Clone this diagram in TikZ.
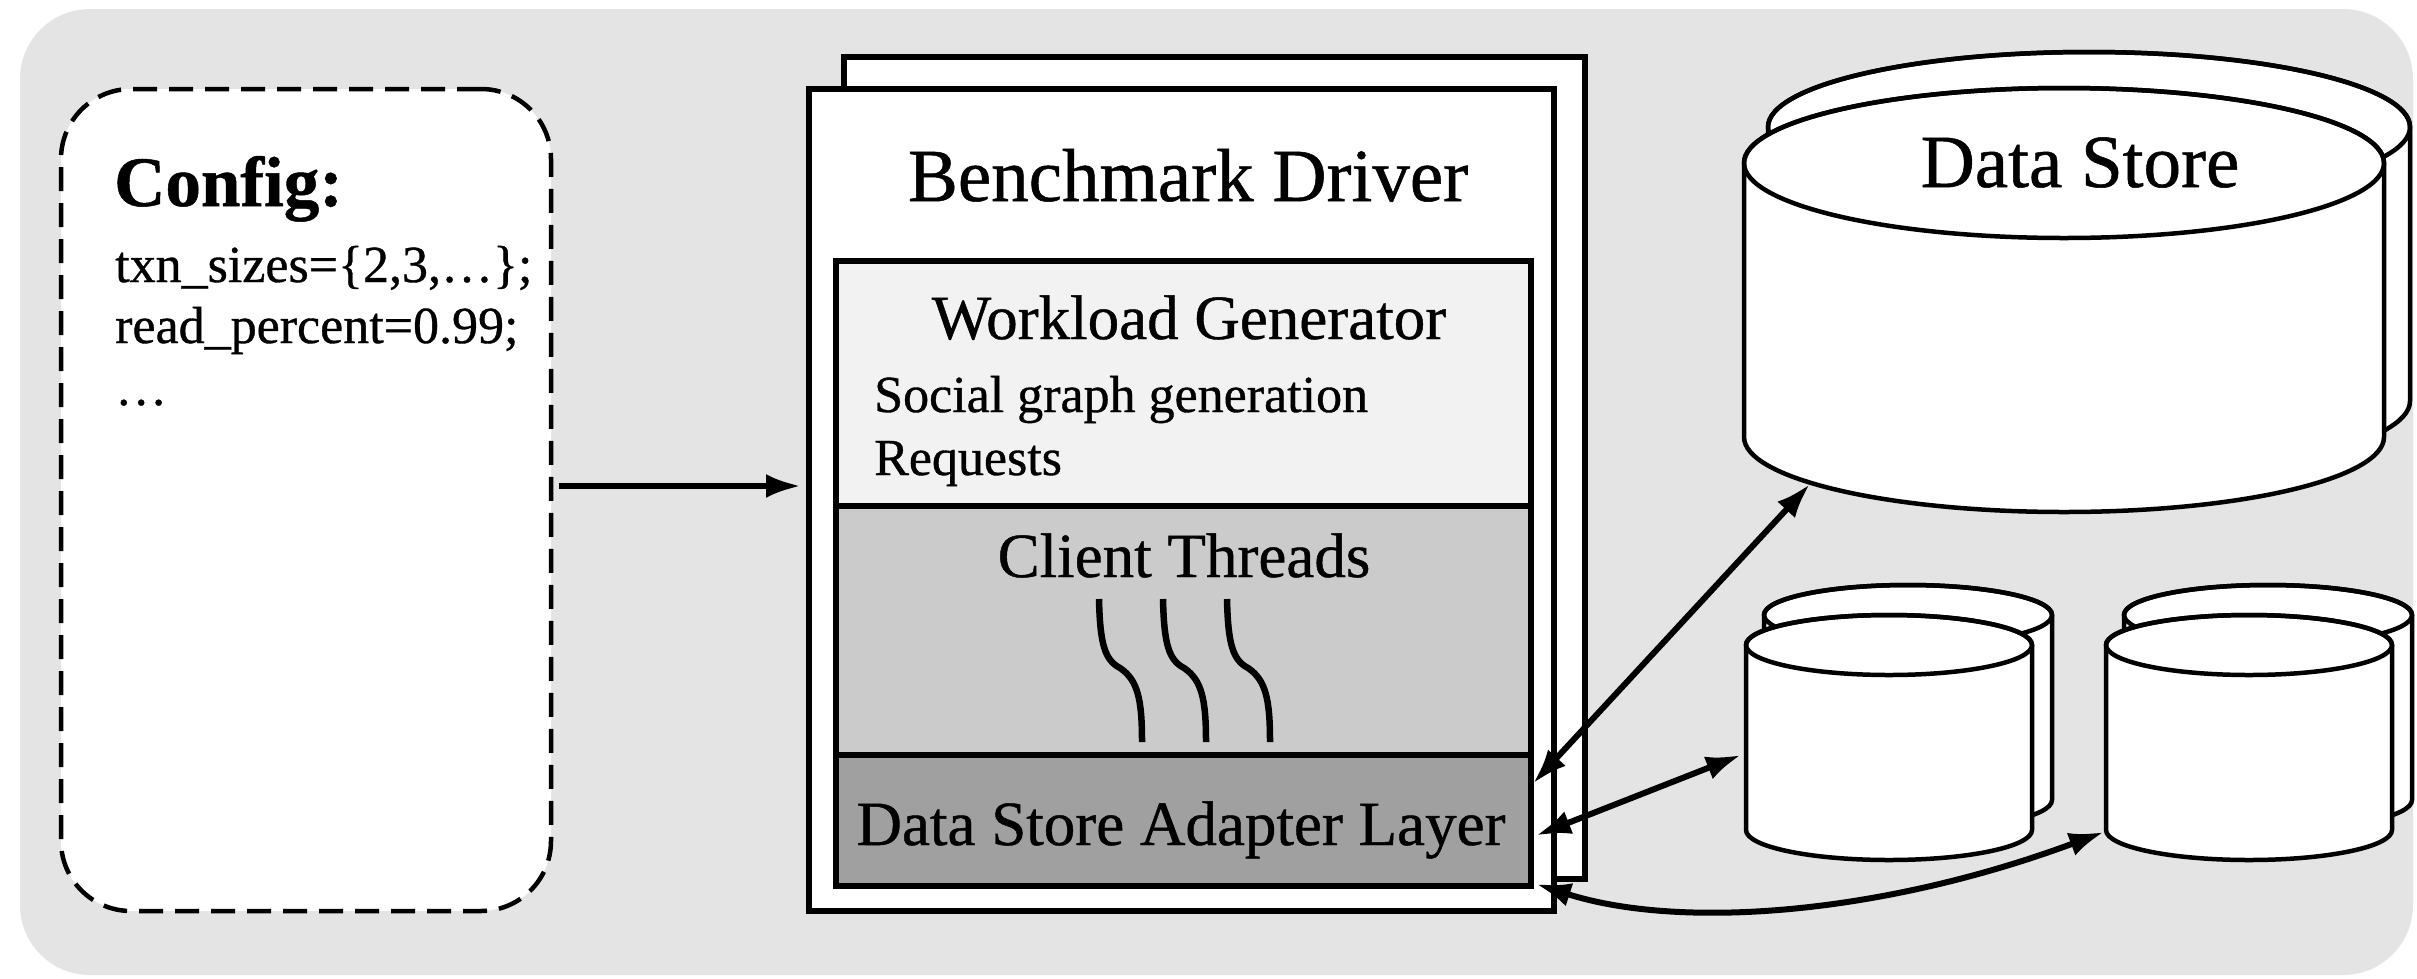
\documentclass[tikz,border=0pt]{standalone}
\usepackage{fontspec}
\setmainfont{Liberation Serif}[FakeBold=0.7]
\usetikzlibrary{arrows.meta}
\definecolor{bggray}{HTML}{E4E4E4}
\definecolor{wlgray}{HTML}{F2F2F2}
\definecolor{ctgray}{HTML}{CBCBCB}
\definecolor{adgray}{HTML}{A0A0A0}
\newcommand\mycyl[5]{%
  \path[cylbody] ({#1-#2},#3) -- ({#1-#2},#4) arc[start angle=180,end angle=360,x radius=#2pt,y radius=#5pt] -- ({#1+#2},#3) arc[start angle=0,end angle=180,x radius=#2pt,y radius=#5pt] -- cycle;
  \draw[cylline] (#1,#3) ellipse[x radius=#2pt,y radius=#5pt];
}
\begin{document}
\begin{tikzpicture}[x=1pt,y=-1pt,
  cfgbox/.style={draw, line width=4.5pt, dash pattern=on 24pt off 12pt, fill=white, rounded corners=70pt, inner sep=0pt, outer sep=0pt},
  boxw/.style={draw, line width=5.5pt, fill=white, inner sep=0pt, outer sep=0pt},
  layer/.style={draw, line width=5.5pt, inner sep=0pt, outer sep=0pt, minimum width=695pt, anchor=north west},
  cylbody/.style={draw, fill=white, line width=4.5pt, line join=round},
  cylline/.style={line width=4.5pt},
  conn/.style={line width=6pt, -{Latex[length=35pt,width=24pt]}},
  biconn/.style={line width=6pt, {Latex[length=35pt,width=24pt]}-{Latex[length=35pt,width=24pt]}},
  thread/.style={line width=6.5pt},
  txtA/.style={font=\fontsize{52}{62}\selectfont, inner sep=0pt},
  txtB/.style={font=\fontsize{63}{75}\selectfont, inner sep=0pt},
  txtC/.style={font=\fontsize{75}{90}\selectfont, inner sep=0pt}]
\useasboundingbox (0,0) rectangle (2417,978);
\fill[white] (0,0) rectangle (2417,978);
\fill[bggray, rounded corners=70pt] (20,9) rectangle (2413,975);

% Config box
\node[cfgbox, minimum width=490pt, minimum height=822pt, anchor=north west] (config) at (61,89) {};
\node[anchor=base west, inner sep=0pt, font=\fontsize{71}{84}\selectfont\bfseries] (cfgtitle) at (114,206) {Config:};
\node[txtA, anchor=base west] (cfg1) at (115,282) {txn\_sizes=\{2,3,…\};};
\node[txtA, anchor=base west] (cfg2) at (115,343) {read\_percent=0.99;};
\node[txtA, anchor=base west] (cfg3) at (115,405) {…};

% Benchmark driver
\node[boxw, minimum width=741pt, minimum height=822pt, anchor=north west] (driverback) at (844,57) {};
\node[boxw, minimum width=745pt, minimum height=822pt, anchor=north west] (driver) at (809,89) {};
\node[txtC, anchor=base] (drvtitle) at (1188,201) {Benchmark Driver};
\node[layer, fill=wlgray, minimum height=245pt] (workload) at (836,261) {};
\node[layer, fill=ctgray, minimum height=249pt] (threads) at (836,506) {};
\node[layer, fill=adgray, minimum height=131pt] (adapter) at (836,755) {};
\node[txtB, anchor=base] (wltext) at (1189,339) {Workload Generator};
\node[txtA, anchor=base west] (wl1) at (874,412) {Social graph generation};
\node[txtA, anchor=base west] (wl2) at (874,475) {Requests};
\node[txtB, anchor=base] (cttext) at (1184,577) {Client Threads};
\node[txtB, anchor=base] (adtext) at (1181,845) {Data Store Adapter Layer};
\foreach \dx in {0,64,128} {
  \draw[thread] (1099+\dx,599) .. controls (1100+\dx,645) and (1105+\dx,660) .. (1120+\dx,668) .. controls (1138+\dx,680) and (1142+\dx,700) .. (1142+\dx,742);
}

% Data stores
\mycyl{2089}{321}{127}{401}{75}
\mycyl{2064}{320}{163}{437}{75}
\node[txtC, anchor=base] (dstext) at (2080,187) {Data Store};
\mycyl{1908}{144}{615}{800}{30}
\mycyl{1889}{143}{645}{830}{30}
\mycyl{2268}{144}{615}{800}{30}
\mycyl{2249}{143}{645}{830}{30}
\coordinate (bigrim) at (1810,484);
\coordinate (smallL) at (1741,755);
\coordinate (smallR) at (2104,832);

% Connectors
\draw[conn, shorten <=8pt, shorten >=8pt] ([yshift=14pt]config.east) -- ([yshift=14pt]driver.west);
\draw[biconn] ([xshift=2pt,yshift=37pt]adapter.east) -- (bigrim);
\draw[biconn] ([xshift=5pt,yshift=-15pt]adapter.east) -- (smallL);
\draw[biconn] ([xshift=5pt,yshift=2pt]adapter.south east) .. controls (1680,930) and (1880,915) .. (smallR);
\end{tikzpicture}
\end{document}
